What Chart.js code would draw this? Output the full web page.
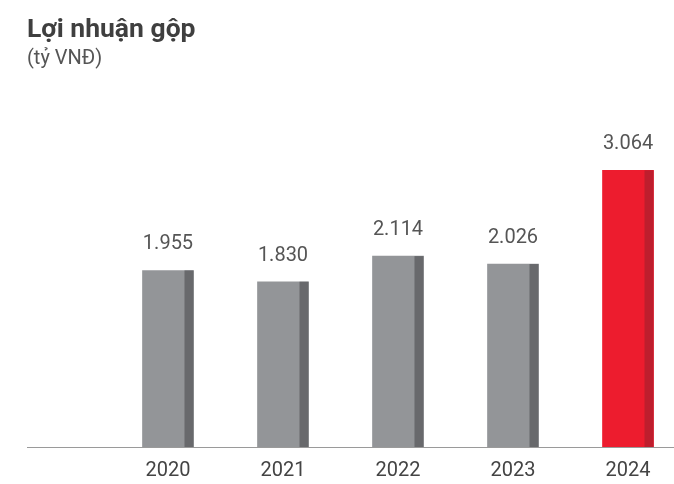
<!DOCTYPE html>
<html>
<head>
<meta charset="utf-8">
<script src="https://cdn.jsdelivr.net/npm/chart.js@4/dist/chart.umd.min.js"></script>
<style>
  html, body { margin: 0; padding: 0; background: #fff; }
  #wrap { width: 674px; height: 484px; }
</style>
</head>
<body>
<div id="wrap"><canvas id="c"></canvas></div>
<script>
const years = [2020, 2021, 2022, 2023, 2024];
const grossProfit = [1955, 1830, 2114, 2026, 3064];
const barColors = ["#939598", "#939598", "#939598", "#939598", "#ed1c2e"];
const sideColors = ["#68696c", "#68696c", "#68696c", "#68696c", "#be1e2d"];

const fmt = (v) => String(v).replace(/\B(?=(\d{3})+(?!\d))/g, ".");

// darker strip on the right side of each bar + value labels on top
const barDecor = {
  id: "barDecor",
  afterDatasetsDraw(chart) {
    const ctx = chart.ctx;
    const meta = chart.getDatasetMeta(0);
    ctx.save();
    meta.data.forEach((bar, i) => {
      const right = bar.x + bar.width / 2;
      ctx.fillStyle = sideColors[i];
      ctx.fillRect(right - 9, bar.y, 9, bar.base - bar.y);
      ctx.fillStyle = "#555";
      ctx.font = "20px Roboto";
      ctx.textAlign = "center";
      ctx.textBaseline = "middle";
      ctx.fillText(fmt(grossProfit[i]), bar.x, bar.y - 26);
    });
    ctx.restore();
  },
};

Chart.defaults.font.family = "Roboto, sans-serif";

new Chart(document.getElementById("c"), {
  type: "bar",
  data: {
    datasets: [
      {
        data: years.map((y, i) => ({ x: y, y: grossProfit[i] })),
        backgroundColor: barColors,
        barThickness: 51,
      },
    ],
  },
  options: {
    responsive: true,
    maintainAspectRatio: false,
    animation: false,
    layout: { padding: { left: 27, right: 0, top: 0, bottom: 0 } },
    scales: {
      x: {
        type: "linear",
        offset: false,
        min: 2018.774,
        max: 2024.400,
        afterBuildTicks: (scale) => {
          scale.ticks = years.map((v) => ({ value: v }));
        },
        afterFit: (scale) => {
          scale.height = 37;
        },
        ticks: {
          callback: (v) => String(v),
          color: "#444",
          font: { size: 20 },
          padding: 12,
          maxRotation: 0,
          autoSkip: false,
        },
        grid: { display: false, drawTicks: false },
        border: { display: true, color: "#9a9a9a", width: 1 },
      },
      y: {
        display: false,
        min: 0,
        max: 4166,
      },
    },
    plugins: {
      legend: { display: false },
      tooltip: { enabled: false },
      title: {
        display: true,
        text: "Lợi nhuận gộp",
        align: "start",
        color: "#3f3f3f",
        font: { size: 26.5, weight: "bold" },
        padding: { top: 14, bottom: 1 },
      },
      subtitle: {
        display: true,
        text: "(tỷ VNĐ)",
        align: "start",
        color: "#555",
        font: { size: 20 },
        padding: { top: 0, bottom: 0 },
      },
    },
  },
  plugins: [barDecor],
});
</script>
</body>
</html>
